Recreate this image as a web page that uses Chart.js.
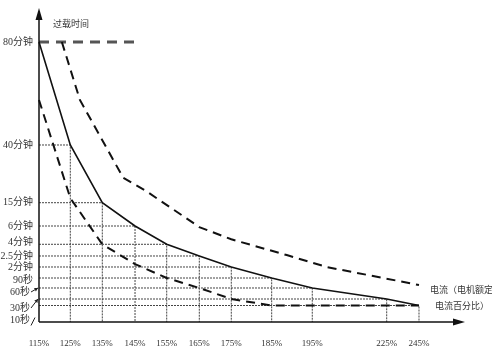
<!DOCTYPE html>
<html lang="zh">
<head>
  <meta charset="UTF-8" />
  <title>过载时间 - 电流特性曲线</title>
  <script src="https://cdn.jsdelivr.net/npm/chart.js@4.4.1/dist/chart.umd.min.js"></script>
  <style>
    body { margin: 0; background: #fff; }
    .chart-container { position: relative; width: 492px; height: 348px; }
  </style>
</head>
<body>
  <div class="chart-container">
    <canvas id="curva"></canvas>
  </div>
  <script>
    // 电流（电机额定电流百分比）
    const currents = [115, 125, 135, 145, 155, 165, 175, 185, 195, 225, 245];
    // 纵轴刻度（秒）
    const timeTicks = [10, 30, 60, 90, 120, 150, 240, 360, 900, 2400, 4800];
    const timeLabels = ['10秒', '30秒', '60秒', '90秒', '2分钟', '2.5分钟', '4分钟', '6分钟', '15分钟', '40分钟', '80分钟'];

    // 实线（秒）
    const ratedTimes = [4800, 2400, 900, 360, 240, 150, 120, 90, 60, 30, 10];
    // 上虚线
    const upperCurrents = [122.3, 128, 141.4, 148.7, 165, 175, 188.7, 200.8, 245];
    const upperTimes = [4800, 3450, 1547, 1192, 353, 273, 157, 120, 69];
    // 下虚线
    const lowerCurrents = [115, 125, 135, 145, 155, 165, 175, 185, 195, 225, 245];
    const lowerTimes = [3450, 1020, 240, 128, 90, 60, 30, 10, 10, 10, 10];
    // 80分钟线
    const capCurrents = [115, 146.6];
    const capTimes = [4800, 4800];

    // 示意图坐标轴不是线性的：刻度值 -> 轴长比例
    const xKnots = [[115, 0], [125, 0.0735], [135, 0.1486], [145, 0.2254], [155, 0.2998], [165, 0.3763],
      [175, 0.4514], [185, 0.5462], [195, 0.6415], [225, 0.8162], [245, 0.8920], [265, 1]];
    const yKnots = [[0, 0], [10, 0.0525], [30, 0.0732], [60, 0.1083], [90, 0.1401], [120, 0.1752],
      [150, 0.2102], [240, 0.2475], [360, 0.3057], [900, 0.3799], [2400, 0.5637], [4800, 0.8917], [6000, 1]];
    const knots = { x: xKnots, y: yKnots };

    // 纵轴标签偏移（部分标签用箭头指向刻度线）
    const labelDy = [15, 9, 4, 2, 0, 0, -2, 0, 0, 0, 0];
    const labelDx = [-3, -3, -3, 0, 0, 0, 0, 0, 0, 0, 0];

    function lerpKnots(list, v, from, to) {
      if (v <= list[0][from]) return list[0][to];
      for (let i = 1; i < list.length; i++) {
        const a = list[i - 1], b = list[i];
        if (v <= b[from]) return a[to] + (v - a[from]) / (b[from] - a[from]) * (b[to] - a[to]);
      }
      return list[list.length - 1][to];
    }

    class KnotScale extends Chart.LinearScale {
      static id = 'knot';
      static defaults = {};
      buildTicks() {
        const vals = this.axis === 'x' ? currents : timeTicks;
        return vals.map(v => ({ value: v }));
      }
      getPixelForValue(v) {
        if (v === null || v === undefined || isNaN(v)) return NaN;
        return this.getPixelForDecimal(lerpKnots(knots[this.id], v, 0, 1));
      }
      getValueForPixel(p) {
        return lerpKnots(knots[this.id], this.getDecimalForPixel(p), 1, 0);
      }
    }
    Chart.register(KnotScale);

    const pts = (xs, ys) => xs.map((x, i) => ({ x: x, y: ys[i] }));
    const serif = "'Liberation Serif', 'Noto Sans CJK SC', serif";
    const cjk = "'Noto Sans CJK SC', sans-serif";

    const dropLines = currents.slice(1).map((c, i) => ({
      data: [{ x: currents[0], y: ratedTimes[i + 1] }, { x: c, y: ratedTimes[i + 1] }, { x: c, y: 0 }],
      borderColor: '#444',
      borderWidth: 1,
      borderDash: [2, 1],
      pointRadius: 0,
      clip: false
    }));

    const decor = {
      id: 'decor',
      afterDraw(chart) {
        const { ctx, chartArea: a, scales: { y } } = chart;
        ctx.save();
        ctx.strokeStyle = '#111';
        ctx.fillStyle = '#111';
        ctx.lineWidth = 1.5;
        // 纵轴
        ctx.beginPath();
        ctx.moveTo(a.left, a.bottom);
        ctx.lineTo(a.left, a.top + 8);
        ctx.stroke();
        ctx.beginPath();
        ctx.moveTo(a.left, a.top);
        ctx.lineTo(a.left - 3.5, a.top + 12);
        ctx.lineTo(a.left + 3.5, a.top + 12);
        ctx.closePath();
        ctx.fill();
        // 横轴
        ctx.beginPath();
        ctx.moveTo(a.left, a.bottom);
        ctx.lineTo(a.right - 8, a.bottom);
        ctx.stroke();
        ctx.beginPath();
        ctx.moveTo(a.right, a.bottom);
        ctx.lineTo(a.right - 12, a.bottom - 3.5);
        ctx.lineTo(a.right - 12, a.bottom + 3.5);
        ctx.closePath();
        ctx.fill();

        // 纵轴标签
        ctx.font = '10px ' + serif;
        ctx.fillStyle = '#333';
        ctx.textAlign = 'right';
        ctx.textBaseline = 'middle';
        timeTicks.forEach((t, i) => {
          ctx.fillText(timeLabels[i], a.left - 6 + labelDx[i], y.getPixelForValue(t) + labelDy[i]);
        });

        // 指向刻度线的小箭头
        ctx.lineWidth = 1;
        ctx.strokeStyle = '#222';
        ctx.fillStyle = '#222';
        [1, 2].forEach(i => {
          const py = y.getPixelForValue(timeTicks[i]);
          const ly = py + labelDy[i];
          const x0 = a.left - 8, x1 = a.left - 1;
          ctx.beginPath();
          ctx.moveTo(x0, ly);
          ctx.lineTo(x1, py);
          ctx.stroke();
          const ang = Math.atan2(py - ly, x1 - x0);
          ctx.beginPath();
          ctx.moveTo(x1, py);
          ctx.lineTo(x1 - 4 * Math.cos(ang - 0.5), py - 4 * Math.sin(ang - 0.5));
          ctx.lineTo(x1 - 4 * Math.cos(ang + 0.5), py - 4 * Math.sin(ang + 0.5));
          ctx.closePath();
          ctx.fill();
        });
        const l10 = y.getPixelForValue(timeTicks[0]) + labelDy[0];
        ctx.beginPath();
        ctx.moveTo(a.left - 8, l10 + 5);
        ctx.lineTo(a.left - 4, l10 - 3);
        ctx.stroke();

        // 轴名称
        ctx.fillStyle = '#333';
        ctx.textAlign = 'left';
        ctx.font = '9px ' + cjk;
        ctx.fillText('过载时间', 53, 24);
        ctx.fillText('电流（电机额定', 430, 290);
        ctx.fillText('电流百分比）', 435, 306);
        ctx.restore();
      }
    };

    new Chart(document.getElementById('curva'), {
      type: 'line',
      data: {
        datasets: [
          {
            label: '额定',
            data: pts(currents, ratedTimes),
            borderColor: '#111',
            borderWidth: 1.6,
            pointRadius: 0,
            clip: false
          },
          {
            label: '上限',
            data: pts(upperCurrents, upperTimes),
            borderColor: '#111',
            borderWidth: 2,
            borderDash: [9, 6],
            pointRadius: 0,
            clip: false
          },
          {
            label: '下限',
            data: pts(lowerCurrents, lowerTimes),
            borderColor: '#111',
            borderWidth: 2,
            borderDash: [9, 6],
            pointRadius: 0,
            clip: false
          },
          {
            label: '80分钟',
            data: pts(capCurrents, capTimes),
            borderColor: '#555',
            borderWidth: 3,
            borderDash: [10, 7],
            pointRadius: 0,
            clip: false
          },
          ...dropLines
        ]
      },
      options: {
        responsive: true,
        maintainAspectRatio: false,
        animation: false,
        layout: { padding: { left: 39, right: 27, top: 8, bottom: 0 } },
        plugins: {
          legend: { display: false },
          tooltip: { enabled: false }
        },
        scales: {
          x: {
            type: 'knot',
            min: 115,
            max: 265,
            grid: { display: false, drawTicks: false },
            border: { display: false },
            ticks: {
              autoSkip: false,
              maxRotation: 0,
              padding: 16,
              color: '#333',
              font: { family: serif, size: 9 },
              callback: v => v + '%'
            },
            afterFit: s => { s.height = 26; }
          },
          y: {
            type: 'knot',
            min: 0,
            max: 6000,
            display: false
          }
        }
      },
      plugins: [decor]
    });
  </script>
</body>
</html>
